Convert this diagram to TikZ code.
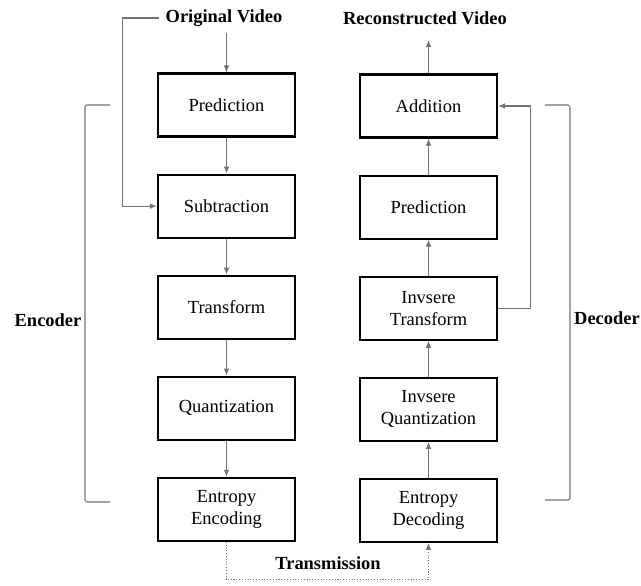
\documentclass[tikz,border=0pt]{standalone}
\usepackage{fontspec}
\setmainfont{Liberation Serif}
\usetikzlibrary{positioning,arrows.meta}

\begin{document}
\begin{tikzpicture}[
        x=0.02cm, y=-0.02cm,
        node distance=0.72cm,
        blockNode/.style={rectangle, draw, line width=1.2pt, minimum width=2.74cm, minimum height=1.26cm, align=center, inner sep=2pt, font=\fontsize{10.5}{12.5}\selectfont},
        titleNode/.style={font=\bfseries\fontsize{10.5}{12.5}\selectfont},
        flow/.style={draw=black!55, line width=0.6pt, -{Latex[length=4pt,width=3.2pt]}},
        brace/.style={draw=black!55, line width=0.6pt, rounded corners=1pt}
    ]
        \useasboundingbox (0,0) rectangle (641,585);

        % Encoder column
        \node[blockNode] (pred) at (226.5,105) {Prediction};
        \node[blockNode, below=of pred] (sub) {Subtraction};
        \node[blockNode, below=of sub] (tr) {Transform};
        \node[blockNode, below=of tr] (qu) {Quantization};
        \node[blockNode, below=of qu] (enc) {Entropy\\Encoding};

        % Decoder column
        \node[blockNode] (add) at (428.5,106) {Addition};
        \node[blockNode, below=of add] (dpred) {Prediction};
        \node[blockNode, below=of dpred] (itr) {Invsere\\Transform};
        \node[blockNode, below=of itr] (iqu) {Invsere\\Quantization};
        \node[blockNode, below=of iqu] (dec) {Entropy\\Decoding};

        % Titles
        \node[titleNode] (orig) at (224,18) {Original Video};
        \node[titleNode] (rec) at (425,18) {Reconstructed Video};
        \node[titleNode] (encl) at (48,320) {Encoder};
        \node[titleNode] (decl) at (607,318) {Decoder};
        \node[titleNode] (trl) at (328,563) {Transmission};
        \coordinate (recout) at (428.5,40);

        % Encoder edges
        \draw[flow] (orig.south -| pred.north) -- (pred);
        \draw[flow] (orig.west) -- ++(-37,0) |- (sub.west);
        \draw[flow] (pred) -- (sub);
        \draw[flow] (sub) -- (tr);
        \draw[flow] (tr) -- (qu);
        \draw[flow] (qu) -- (enc);

        % Decoder edges
        \draw[flow] (dec) -- (iqu);
        \draw[flow] (iqu) -- (itr);
        \draw[flow] (itr) -- (dpred);
        \draw[flow] (dpred) -- (add);
        \draw[flow] (itr.east) -- ++(32,0) |- (add.east);
        \draw[flow] (add) -- (recout);

        % Channel
        \draw[flow, densely dotted] (enc.south) -- ++(0,38) -| (dec.south);

        % Brackets
        \draw[brace] (110,105) -- (85,105) -- (85,502) -- (110,502);
        \draw[brace] (545,105) -- (570,105) -- (570,500) -- (545,500);
    \end{tikzpicture}
\end{document}
